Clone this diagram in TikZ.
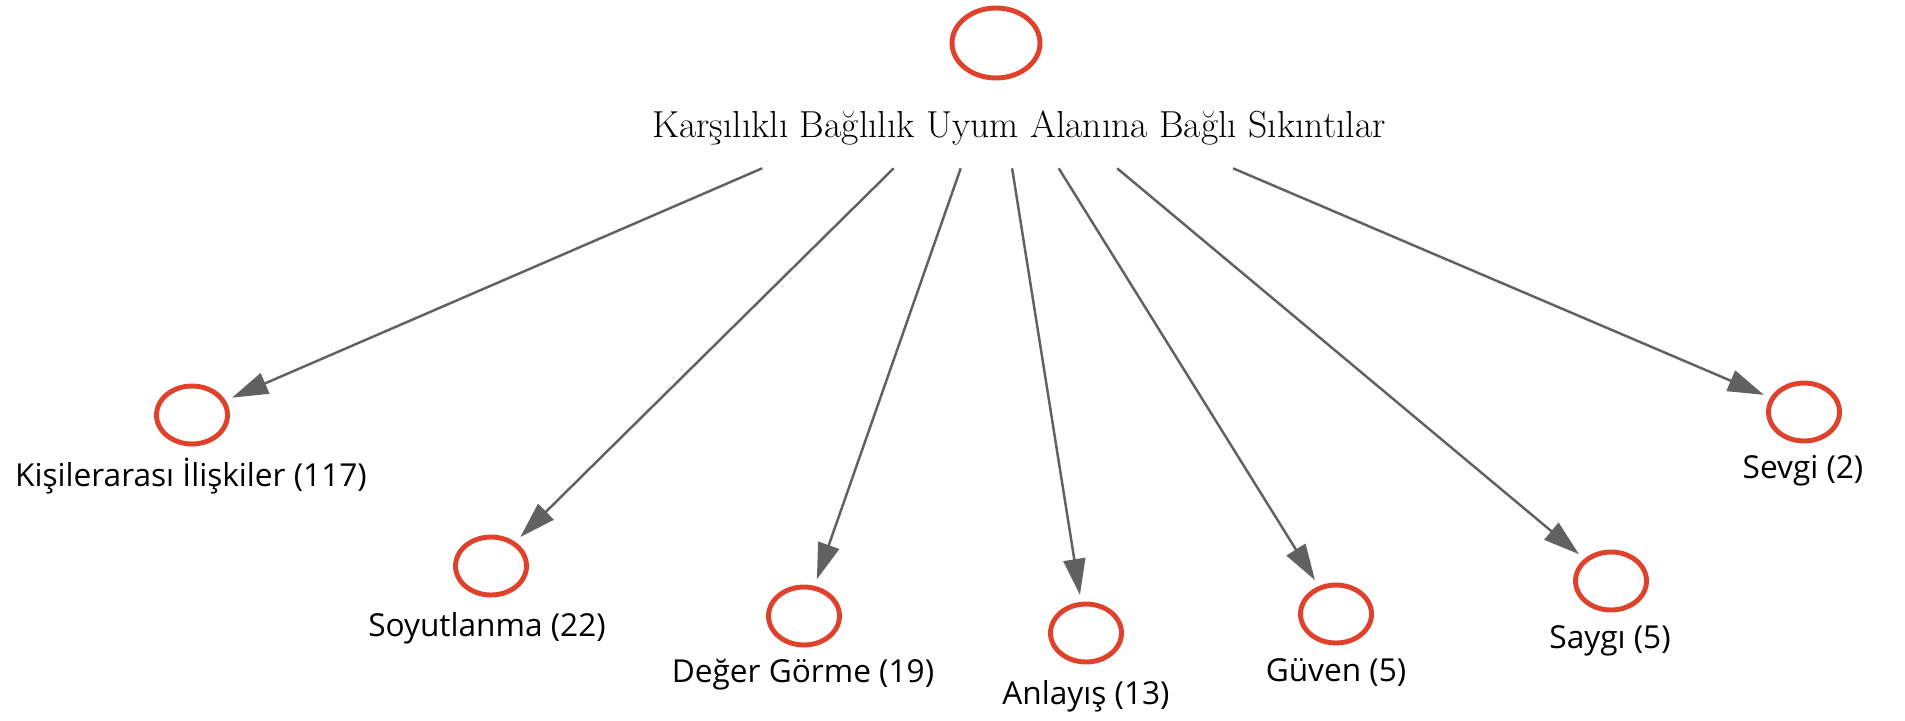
\documentclass[tikz,border=0pt]{standalone}
\usepackage{fontspec}
\newfontfamily\labfont{Open Sans}
\usetikzlibrary{arrows.meta,shapes.geometric}
\definecolor{nodered}{HTML}{E0412B}
\definecolor{edgegray}{HTML}{616161}
\tikzset{
  circ/.style={ellipse, draw=nodered, line width=2.8pt, inner sep=0pt, minimum width=1.42cm, minimum height=1.16cm},
  topcirc/.style={circ, minimum width=1.76cm, minimum height=1.4cm},
  lab/.style={font=\labfont\fontsize{18}{20}\selectfont, inner sep=0pt, text=black},
  ttl/.style={font=\fontsize{21.4}{25}\selectfont, inner sep=0pt},
  hubbox/.style={rectangle, inner sep=0pt, minimum width=24cm, minimum height=4.04cm},
  edge/.style={draw=edgegray, line width=1.4pt, shorten >=0.14cm,
    -{Triangle[length=0.72cm, width=0.44cm, fill=edgegray]}}
}
\begin{document}
\begin{tikzpicture}[x=0.02cm, y=-0.02cm]
\useasboundingbox (0,0) rectangle (1905,720);
\node[topcirc] (top) at (996,43) {};
\node[ttl] (title) at (1019,128) {Karşılıklı Bağlılık Uyum Alanına Bağlı Sıkıntılar};
\node[hubbox] (hub) at (996,67) {};
\node[circ] (k) at (192,415) {};
\node[lab] (kL) at (191,476) {Kişilerarası İlişkiler (117)};
\node[circ] (so) at (491,566) {};
\node[lab] (soL) at (487,628) {Soyutlanma (22)};
\node[circ] (d) at (804,616) {};
\node[lab] (dL) at (803,675) {Değer Görme (19)};
\node[circ] (a) at (1086,633) {};
\node[lab] (aL) at (1086,696) {Anlayış (13)};
\node[circ] (g) at (1336,614) {};
\node[lab] (gL) at (1336,672) {Güven (5)};
\node[circ] (sa) at (1611,581) {};
\node[lab] (saL) at (1610,641) {Saygı (5)};
\node[circ] (se) at (1804,412) {};
\node[lab] (seL) at (1803,471) {Sevgi (2)};
\foreach \t in {k,so,d,a,g,sa,se} {\draw[edge] (hub) -- (\t);}
\end{tikzpicture}
\end{document}
